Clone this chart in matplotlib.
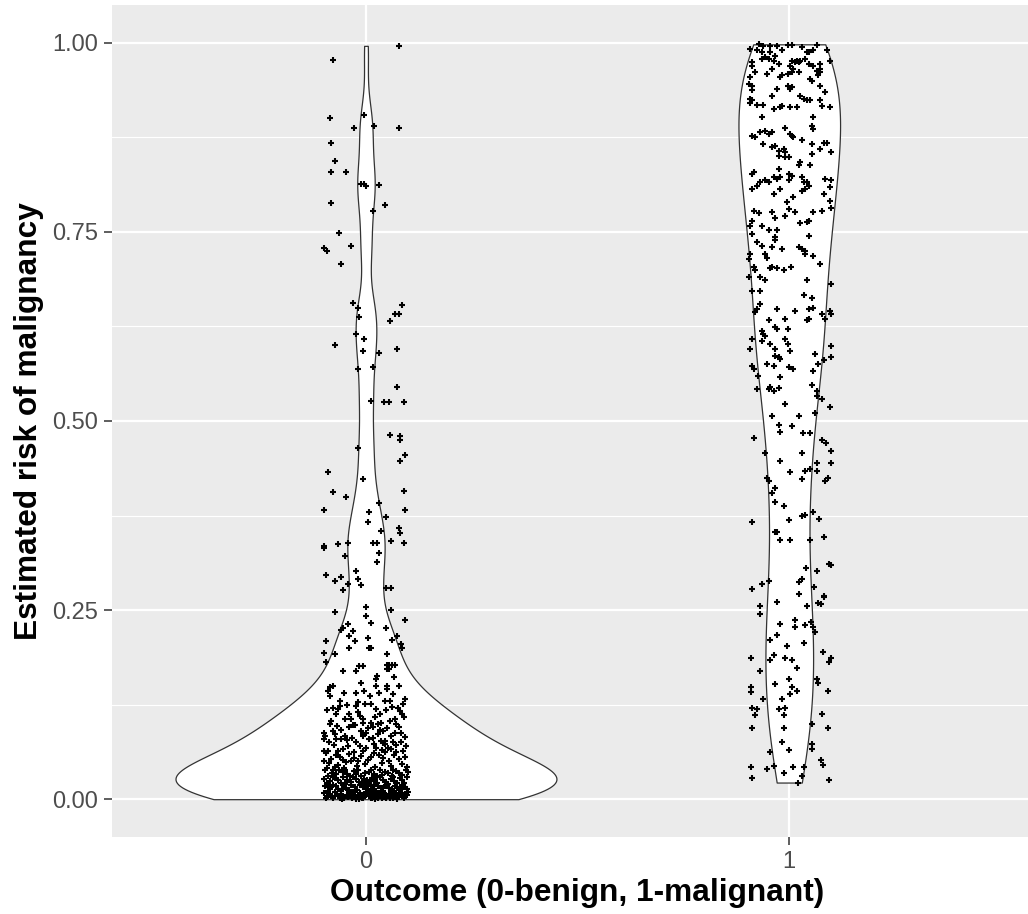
import numpy as np
import matplotlib.pyplot as plt
from matplotlib import cbook, mlab

plt.rcParams['font.family'] = ['Liberation Sans', 'DejaVu Sans']

outcomes = ['0', '1']

# (horizontal jitter, estimated risk), both in thousandths
benign = [
    (77, 996), (-78, 977), (-86, 901), (-4, 905), (-28, 888), (20, 890), (77, 888), (-82, 868),
    (-74, 844), (-82, 829), (-47, 829), (-11, 814), (-5, 813), (1, 811), (31, 812), (-82, 788),
    (46, 786), (16, 777), (-63, 749), (-99, 729), (-93, 725), (-35, 731), (-58, 707), (-31, 656),
    (-20, 649), (-16, 638), (85, 653), (69, 642), (77, 642), (57, 632), (-24, 615), (-74, 601),
    (-4, 608), (-8, 593), (31, 590), (73, 595), (-20, 569), (16, 571), (73, 545), (12, 527),
    (43, 525), (54, 525), (89, 525),
    (57, 482), (81, 480), (81, 475), (-20, 464), (93, 455), (81, 447), (-90, 432), (-8, 423),
    (-78, 406), (-47, 399), (89, 408), (31, 391), (-98, 382), (93, 382), (7, 380), (4, 367),
    (47, 373), (77, 358), (81, 352), (35, 354), (-99, 332), (-98, 335), (-66, 337), (-43, 339),
    (16, 339), (27, 339), (58, 341), (89, 339), (-50, 322), (31, 326), (27, 313), (-24, 302),
    (-94, 296), (-74, 289), (-58, 294), (-43, 285), (-20, 291), (-12, 283), (-54, 276), (47, 279),
    (58, 279), (0, 254), (-74, 248), (0, 242), (58, 250), (93, 237), (12, 233), (-43, 231),
    (-58, 224), (-54, 226), (47, 226), (-31, 222), (-39, 216), (4, 213), (73, 216), (61, 211),
    (-27, 209), (-94, 209), (82, 205), (85, 200), (8, 200), (12, 200), (-39, 200), (-99, 193),
    (-74, 192), (50, 192), (-94, 181), (50, 178), (54, 178), (62, 178), (69, 178), (50, 172),
    (54, 172), (-16, 176), (-8, 176), (-54, 170), (-24, 170), (27, 163), (23, 159), (66, 161),
    (-78, 150), (-86, 148), (-12, 154), (23, 150), (50, 150), (50, 146), (77, 150), (-4, 143),
    (-90, 143), (31, 141),
    (-96, 84), (-68, 97), (-41, 112), (-19, 128), (5, 94), (21, 108), (47, 118), (69, 88),
    (92, 132), (-86, 136), (-53, 141), (-31, 98), (9, 137), (34, 92), (63, 139), (85, 112),
    (-74, 86), (-44, 78), (17, 81), (41, 74), (-8, 83), (-65, 119), (29, 99), (75, 121),
    (-23, 140),
    (-62, 130), (-62, 123), (-78, 121), (-23, 123), (-19, 115), (-3, 126), (13, 126), (44, 130),
    (56, 130), (87, 126), (80, 117), (-70, 112), (-50, 106), (-7, 106), (-7, 101), (-35, 106),
    (13, 101), (36, 101), (56, 103), (68, 106), (72, 99), (-86, 99), (83, 88), (-39, 95),
    (1, 88), (-7, 86), (40, 90), (-98, 88), (-78, 90), (-70, 79), (-58, 79), (44, 77),
    (44, 73), (64, 75), (83, 75), (-98, 79), (-23, 75), (1, 68), (-7, 64), (-43, 70),
    (-98, 64), (-90, 64), (-66, 64), (24, 68), (52, 68), (60, 66), (87, 64),
    (-92, 118), (-45, 125), (24, 119), (62, 122), (-15, 110), (33, 113), (90, 108), (-83, 104),
    (-27, 98), (17, 96), (49, 94), (-60, 92), (78, 96), (-11, 90), (28, 86), (58, 84),
    (-49, 83), (93, 82), (-88, 76), (7, 79), (36, 77), (-34, 81), (-75, 72), (-15, 70),
    (18, 73), (70, 71), (-55, 67), (39, 65), (-28, 62), (95, 70),
    (-95, 61), (-71, 58), (-40, 60), (-12, 57), (18, 61), (41, 55), (66, 59), (93, 56),
    (-83, 53), (-55, 52), (-28, 55), (5, 52), (30, 58), (54, 51), (79, 53), (-99, 50),
    (-62, 56), (-18, 50), (12, 56), (71, 62), (46, 62), (-35, 51),
    (-88, 48), (-66, 45), (-47, 49), (-21, 44), (-3, 47), (22, 42), (37, 48), (59, 44),
    (84, 47), (97, 42), (-93, 41), (-74, 43), (-52, 41),
    (-33, 6), (-9, 3), (9, 7), (28, 2), (48, 5), (68, 8), (89, 3), (-60, 6), (15, 2),
    (76, 6), (-14, 4), (56, 1),
    (-97, 38), (-81, 35), (-64, 39), (-45, 33), (-29, 37), (-11, 31), (6, 36), (19, 33),
    (34, 39), (52, 34), (71, 37), (86, 32), (99, 36), (-89, 31), (-70, 33), (-55, 36),
    (-38, 30), (-19, 39), (-2, 34), (13, 38), (27, 31), (44, 36), (61, 31), (78, 34),
    (94, 39), (-77, 38), (-24, 33), (39, 32), (65, 38), (-50, 39),
    (-99, 27), (-86, 24), (-73, 28), (-58, 22), (-44, 26), (-31, 29), (-16, 23), (-5, 27),
    (8, 21), (21, 26), (33, 29), (47, 23), (59, 27), (73, 21), (85, 26), (96, 29),
    (-92, 21), (-79, 29), (-65, 25), (-49, 20), (-36, 23), (-23, 27), (-10, 21), (2, 25),
    (15, 28), (26, 22), (40, 26), (53, 20), (67, 24), (80, 28), (91, 22), (-55, 29),
    (11, 24), (63, 29), (-3, 22),
    (-96, 18), (-84, 14), (-71, 17), (-60, 11), (-47, 15), (-35, 19), (-21, 12), (-8, 16),
    (4, 19), (17, 13), (29, 17), (41, 11), (55, 15), (68, 18), (79, 12), (92, 16),
    (-90, 11), (-77, 19), (-66, 14), (-53, 18), (-40, 12), (-27, 16), (-14, 19), (-1, 13),
    (11, 17), (23, 11), (35, 15), (48, 19), (61, 13), (74, 16), (86, 19), (98, 13),
    (-57, 13), (-31, 10), (7, 11), (44, 17), (83, 14), (-88, 16), (19, 19), (66, 10),
    (-98, 8), (-91, 3), (-85, 6), (-78, 1), (-72, 9), (-65, 4), (-59, 7), (-52, 2),
    (-46, 5), (-39, 9), (-33, 1), (-26, 6), (-20, 3), (-13, 8), (-7, 2), (0, 5),
    (6, 9), (12, 1), (19, 6), (25, 3), (32, 8), (38, 2), (45, 7), (51, 4),
    (58, 9), (64, 1), (71, 6), (77, 3), (84, 8), (90, 2), (97, 5), (-95, 1),
    (-81, 4), (-68, 7), (-56, 0), (-43, 3), (-30, 8), (-17, 0), (-4, 7), (9, 4),
    (22, 0), (35, 5), (48, 1), (61, 7), (74, 0), (87, 5), (99, 9), (-62, 2),
    (-36, 4), (-10, 1), (16, 8), (42, 3), (68, 4), (93, 7), (-24, 0),
]

malignant = [
    (-71, 998), (-93, 992), (-61, 996), (-45, 996), (-29, 996), (-2, 997), (6, 997), (30, 994),
    (46, 988), (57, 990), (65, 997), (89, 990), (-57, 981), (-49, 979), (-33, 983), (-37, 976),
    (-25, 972), (6, 976), (18, 976), (38, 979), (42, 988), (-88, 974), (-88, 970), (73, 972),
    (73, 966), (65, 963), (97, 976), (46, 972), (57, 970), (2, 970), (14, 974), (26, 976),
    (-65, 979), (-65, 988), (-45, 988), (-17, 990), (-76, 990), (-80, 961), (-53, 959), (-41, 966),
    (-21, 955), (-17, 957), (-2, 959), (6, 961), (10, 966), (22, 974), (22, 961), (50, 952),
    (54, 950), (69, 957), (73, 961), (-92, 955), (-96, 946), (-88, 943), (-88, 937), (-2, 943),
    (2, 939), (6, 941), (-29, 939), (-41, 930), (26, 930), (73, 943), (85, 935), (-92, 926),
    (-88, 924), (-92, 921), (-76, 918), (-61, 918), (-37, 913), (-21, 915), (-17, 917), (2, 915),
    (18, 915), (34, 926), (42, 924), (50, 924), (73, 924), (77, 916), (97, 915), (-65, 902),
    (-9, 888), (57, 902), (54, 890), (57, 886), (-88, 877), (-80, 875), (-69, 882), (-57, 884),
    (-49, 880), (-41, 882), (-61, 866), (2, 880), (6, 877), (10, 875), (30, 871), (54, 866),
    (81, 868), (89, 868), (-41, 862), (-33, 864), (-25, 857), (-13, 860), (-9, 855), (-25, 851),
    (-9, 849), (-1, 849), (54, 853), (73, 860), (99, 855), (26, 842), (22, 838), (-25, 833),
    (50, 838), (-84, 829), (-88, 827), (-37, 822), (-29, 820), (-21, 822), (-1, 827), (6, 824),
    (30, 822), (34, 816), (42, 816), (38, 807), (30, 804), (46, 811), (-69, 816), (-57, 818),
    (-49, 816), (-88, 807), (-76, 811), (-37, 800), (-21, 807), (-1, 818), (85, 820), (97, 809),
    (99, 818), (81, 800), (97, 791), (99, 782), (-5, 789), (10, 796), (-84, 777), (-72, 775),
    (-41, 776), (-33, 769), (-1, 780), (14, 776), (-9, 771), (57, 776), (77, 778),
    (26, 762), (46, 765), (42, 763), (-88, 765), (-92, 758), (-88, 747), (-65, 758), (-49, 752),
    (-29, 752), (-33, 743), (-33, 739), (46, 745), (-76, 736), (-65, 732), (-41, 730), (-17, 728),
    (22, 730), (30, 728), (38, 725), (-92, 721), (-96, 714), (-57, 721), (-53, 716), (38, 721),
    (57, 718), (73, 708), (-45, 702), (-40, 704), (-29, 702), (-12, 700), (5, 704), (-84, 704),
    (-80, 700), (-96, 690), (-69, 690), (-57, 686), (-88, 672), (-69, 672), (42, 686), (34, 666),
    (54, 663), (99, 681), (-76, 648), (-80, 644), (-69, 655), (-29, 648), (14, 646), (46, 648),
    (57, 650), (42, 633), (46, 635), (77, 641), (85, 635), (97, 646), (99, 641), (-49, 633),
    (-33, 624), (-29, 622), (-9, 635), (-65, 619), (-61, 615), (-57, 613), (-2, 622), (-88, 608),
    (-92, 595), (-65, 606), (-45, 602), (-33, 595), (-9, 608), (-2, 602), (2, 593), (-25, 584),
    (-21, 582), (-33, 586), (61, 589), (81, 580), (99, 599), (99, 584), (-88, 573), (-84, 569),
    (-53, 575), (-37, 573), (-1, 571), (10, 569), (57, 566), (69, 575), (-73, 560), (-21, 558),
    (-76, 542), (-49, 542), (-45, 545), (-37, 540), (-25, 544), (54, 547), (65, 540), (65, 533),
    (77, 529), (97, 518), (-9, 522), (-41, 507), (22, 507), (61, 511),
    (-25, 495), (-21, 486), (6, 493), (-84, 478), (32, 484), (48, 484), (77, 475), (87, 471),
    (99, 460), (-57, 458), (30, 458), (-21, 447), (65, 445), (98, 445), (2, 432), (38, 434),
    (50, 437), (65, 434), (-53, 425), (-49, 421), (30, 423), (85, 421), (91, 425), (-33, 412),
    (-41, 405), (-33, 393), (-13, 387), (57, 380), (-88, 367), (-1, 369), (30, 374), (38, 376),
    (71, 371), (-33, 353), (-29, 353), (-21, 343), (2, 343), (48, 343), (83, 347), (95, 311),
    (99, 309), (40, 306), (65, 302), (-49, 289), (-65, 285), (-88, 278), (22, 287), (30, 291),
    (58, 280), (24, 271), (83, 269), (83, 267), (68, 260), (76, 258), (-29, 261), (42, 256),
    (-69, 256), (-69, 245), (-21, 232), (14, 237), (14, 228), (38, 230), (52, 234), (56, 228),
    (61, 221), (-29, 217), (-46, 211), (34, 206), (-6, 202), (80, 195), (-91, 187), (-37, 191),
    (-46, 184), (-9, 187), (6, 184), (98, 187), (95, 182), (-69, 169), (18, 174), (65, 159),
    (67, 154), (-1, 159), (-33, 152), (6, 148), (2, 139), (18, 143), (-91, 148), (-91, 142),
    (91, 143), (-61, 132), (-17, 132), (-88, 121), (-76, 119), (-80, 111), (-25, 119), (-9, 121),
    (-13, 111), (77, 113), (54, 100), (-88, 94), (-13, 94), (91, 94), (-17, 76), (54, 73),
    (54, 67), (-1, 65), (-46, 63), (76, 52), (80, 45), (-91, 43), (-87, 28), (-53, 40),
    (-37, 44), (-13, 35), (10, 42), (34, 42), (30, 31), (20, 22), (95, 26),
]

groups = [np.array(benign) / 1000.0, np.array(malignant) / 1000.0]
risk = [g[:, 1] for g in groups]
jitter = [g[:, 0] for g in groups]


def bw_nrd0(x):
    sd = np.std(x, ddof=1)
    q75, q25 = np.percentile(x, [75, 25])
    return 0.9 * min(sd, (q75 - q25) / 1.34) * len(x) ** -0.2


def density(x, coords):
    kde = mlab.GaussianKDE(x, bw_method=bw_nrd0(x) / np.std(x, ddof=1))
    return kde.evaluate(coords)


fig = plt.figure(figsize=(10.28, 9.14), dpi=100)
ax = fig.add_axes([112 / 1028, 77 / 914, 916 / 1028, 832 / 914])
ax.set_facecolor('#EBEBEB')

stats = cbook.violin_stats(risk, density, points=512)
peaks = [s['vals'].max() for s in stats]
widths = [0.9 * p / max(peaks) for p in peaks]
parts = ax.violin(stats, positions=[0, 1], widths=widths, showextrema=False)
for body in parts['bodies']:
    body.set_facecolor('white')
    body.set_edgecolor('#333333')
    body.set_linewidth(0.9)
    body.set_alpha(1)
    body.set_zorder(2)

for i in range(2):
    ax.plot(i + jitter[i], risk[i], '+', color='black', ms=5, mew=1.5, zorder=3)

ax.set_xlim(-0.6, 1.564)
ax.set_ylim(-0.05, 1.05)
ax.set_xticks([0, 1])
ax.set_xticklabels(outcomes)
ax.set_yticks([0, 0.25, 0.5, 0.75, 1.0])
ax.set_yticklabels(['0.00', '0.25', '0.50', '0.75', '1.00'])
ax.set_yticks([0.125, 0.375, 0.625, 0.875], minor=True)
ax.grid(which='major', color='white', linewidth=1.6)
ax.grid(which='minor', axis='y', color='white', linewidth=0.8)
ax.set_axisbelow(True)
for s in ax.spines.values():
    s.set_visible(False)
ax.tick_params(which='major', color='#333333', length=6, width=1.1,
               labelcolor='#4D4D4D', labelsize=17, pad=4)
ax.tick_params(which='minor', length=0)

# the panel runs past the right edge of the image, the title is centred on the whole panel
ax.set_xlabel('Outcome (0-benign, 1-malignant)', fontsize=22.8, fontweight='bold',
              labelpad=4, x=0.508)
ax.set_ylabel('Estimated risk of malignancy', fontsize=22.8, fontweight='bold', labelpad=6)

fig.savefig('out.png', dpi=100)
